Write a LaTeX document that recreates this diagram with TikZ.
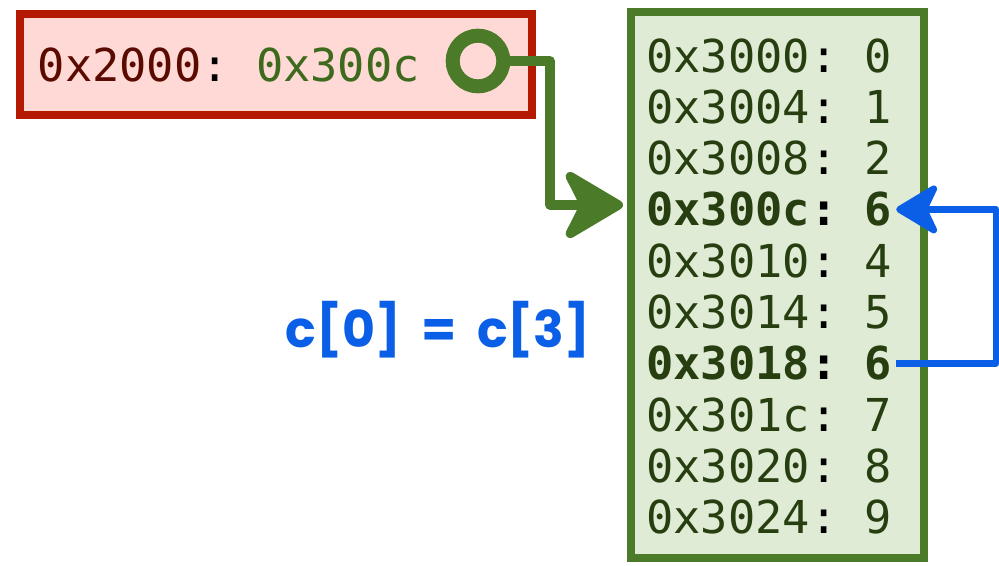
\documentclass[tikz,border=0pt]{standalone}
\usepackage{fontspec}
\setmonofont{DejaVu Sans Mono}
\newfontfamily\chalkfont{Poppins}
\usetikzlibrary{arrows.meta,shadows}
\definecolor{redline}{HTML}{B51A00}
\definecolor{redfill}{HTML}{FFD9D5}
\definecolor{greenline}{HTML}{4B7A28}
\definecolor{greenfill}{HTML}{DFEBD5}
\definecolor{rowtext}{HTML}{273F10}
\definecolor{ptrtext}{HTML}{5A0A00}
\definecolor{valtext}{HTML}{3E6A1E}
\definecolor{chalkblue}{HTML}{0B5FE6}
\tikzset{
  redbox/.style={draw=redline, fill=redfill, line width=6pt, rectangle,
    minimum width=384pt, minimum height=75.75pt,
    drop shadow={opacity=0.25, shadow xshift=2pt, shadow yshift=-3pt}},
  greenbox/.style={draw=greenline, fill=greenfill, line width=6pt, rectangle,
    minimum width=219.75pt, minimum height=409.5pt,
    drop shadow={opacity=0.25, shadow xshift=-3pt, shadow yshift=-3pt}},
  rowtxt/.style={font=\ttfamily\fontsize{34}{34}\selectfont, text=rowtext,
    anchor=base west, inner sep=3pt},
  ringnode/.style={circle, draw=greenline, line width=10.5pt, minimum size=38pt, inner sep=0pt},
  garrow/.style={draw=greenline, line width=7pt, line join=round,
    -{Stealth[length=51pt, width=60pt, inset=15pt, round]}},
  barrow/.style={draw=chalkblue, line width=5pt, line join=round,
    -{Stealth[length=36pt, width=43pt, inset=10pt, round]}},
}
\begin{document}
\begin{tikzpicture}[x=0.75pt, y=-0.75pt]
\useasboundingbox (0,0) rectangle (999,565);
% boxes
\node[redbox] (ptrbox) at (276,64.5) {};
\node[greenbox] (gbox) at (777.5,285) {};
% pointer text
\node[font=\ttfamily\fontsize{34}{34}\selectfont, anchor=base west, inner sep=0pt]
  (ptrtxt) at (37.5,81) {\textcolor{ptrtext}{0x2000}\textcolor{black}{:} \textcolor{valtext}{0x300c}};
\node[ringnode] (ring) at (478,61) {};
% rows
\node[rowtxt] (r0) at (642,72.0)  {0x3000\textcolor{black}{:} 0};
\node[rowtxt] (r1) at (642,123.3) {0x3004\textcolor{black}{:} 1};
\node[rowtxt] (r2) at (642,174.6) {0x3008\textcolor{black}{:} 2};
\node[rowtxt, font=\ttfamily\bfseries\fontsize{34}{34}\selectfont] (r3) at (642,225.9) {0x300c\textcolor{black}{:} 6};
\node[rowtxt] (r4) at (642,277.2) {0x3010\textcolor{black}{:} 4};
\node[rowtxt] (r5) at (642,328.5) {0x3014\textcolor{black}{:} 5};
\node[rowtxt, font=\ttfamily\bfseries\fontsize{34}{34}\selectfont] (r6) at (642,379.8) {0x3018\textcolor{black}{:} 6};
\node[rowtxt] (r7) at (642,431.1) {0x301c\textcolor{black}{:} 7};
\node[rowtxt] (r8) at (642,482.4) {0x3020\textcolor{black}{:} 8};
\node[rowtxt] (r9) at (642,533.7) {0x3024\textcolor{black}{:} 9};
% label
\node[font=\chalkfont\bfseries\fontsize{38}{40}\selectfont, text=chalkblue] (lbl) at (438,330) {c[0]\hspace{0.4em}=\hspace{0.4em}c[3]};
% connectors
\coordinate (gc) at (550,205);
\draw[garrow] (ring.east) -| (gc) -- ([xshift=-3pt]gbox.west |- gc);
\coordinate (bc) at (996,290);
\draw[barrow] (r6.east) -| (bc) |- (r3.east);
\end{tikzpicture}
\end{document}
